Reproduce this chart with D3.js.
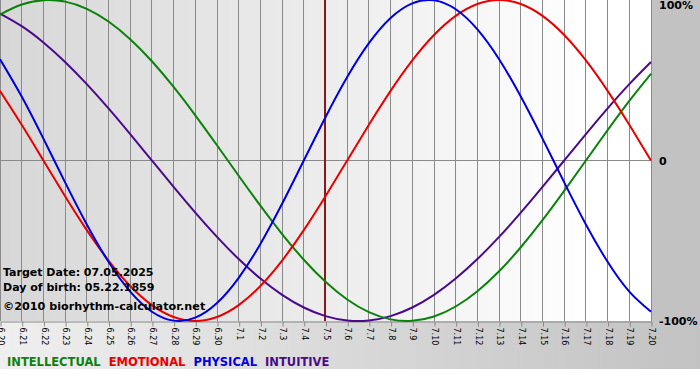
<!DOCTYPE html>
<html><head><meta charset="utf-8">
<script src="https://cdn.jsdelivr.net/npm/d3@7"></script>
<style>
html,body{margin:0;padding:0;background:#fff;}
svg{display:block;}
</style></head>
<body>
<div id="chart"></div>
<script>
const dayLabels = ["6.20","6.21","6.22","6.23","6.24","6.25","6.26","6.27","6.28","6.29","6.30",
  "7.1","7.2","7.3","7.4","7.5","7.6","7.7","7.8","7.9","7.10","7.11","7.12","7.13","7.14","7.15",
  "7.16","7.17","7.18","7.19","7.20"];
const intellectual = [0.9096,0.9718,0.9989,0.9898,0.9450,0.8660,0.7557,0.6182,0.4582,0.2817,0.0951,
  -0.0951,-0.2817,-0.4582,-0.6182,-0.7557,-0.8660,-0.9450,-0.9898,-0.9989,-0.9718,-0.9096,-0.8146,
  -0.6901,-0.5406,-0.3717,-0.1893,0,0.1893,0.3717,0.5406];
const emotional = [0.4339,0.2225,0,-0.2225,-0.4339,-0.6235,-0.7818,-0.9010,-0.9749,-1,-0.9749,
  -0.9010,-0.7818,-0.6235,-0.4339,-0.2225,0,0.2225,0.4339,0.6235,0.7818,0.9010,0.9749,1,0.9749,
  0.9010,0.7818,0.6235,0.4339,0.2225,0];
const physical = [0.6311,0.3984,0.1362,-0.1362,-0.3984,-0.6311,-0.8170,-0.9423,-0.9977,-0.9791,-0.8879,
  -0.7308,-0.5197,-0.2698,0,0.2698,0.5197,0.7308,0.8879,0.9791,0.9977,0.9423,0.8170,0.6311,0.3984,
  0.1362,-0.1362,-0.3984,-0.6311,-0.8170,-0.9423];
const intuitive = [0.9158,0.8372,0.7357,0.6142,0.4759,0.3247,0.1646,0,-0.1646,-0.3247,-0.4759,
  -0.6142,-0.7357,-0.8372,-0.9158,-0.9694,-0.9966,-0.9966,-0.9694,-0.9158,-0.8372,-0.7357,-0.6142,
  -0.4759,-0.3247,-0.1646,0,0.1646,0.3247,0.4759,0.6142];
const seriesNames = ["INTELLECTUAL","EMOTIONAL","PHYSICAL","INTUITIVE"];
const seriesColors = ["#0b820b","#e80000","#0000dd","#4a0a8a"];
const targetIndex = 15;
const yTickValues = [1, 0, -1];
const yTickLabels = ["100%", "0", "-100%"];
const infoLines = ["Target Date: 07.05.2025", "Day of birth: 05.22.1859", "\u00A92010 biorhythm-calculator.net"];

const W = 700, H = 380;
const plotW = 651, plotH = 321;

const svg = d3.select("#chart").append("svg").attr("width", W).attr("height", H);
const defs = svg.append("defs");

const gOuter = defs.append("linearGradient").attr("id","outerGrad").attr("x1","0").attr("x2","1").attr("y1","0").attr("y2","0");
gOuter.append("stop").attr("offset","0").attr("stop-color","#efefef");
gOuter.append("stop").attr("offset","1").attr("stop-color","#c2c2c2");
const gPlot = defs.append("linearGradient").attr("id","plotGrad").attr("x1","0").attr("x2","1").attr("y1","0").attr("y2","0");
gPlot.append("stop").attr("offset","0").attr("stop-color","#d7d7d7");
gPlot.append("stop").attr("offset","0.92").attr("stop-color","#ffffff");
gPlot.append("stop").attr("offset","1").attr("stop-color","#ffffff");
defs.append("clipPath").attr("id","plotClip").append("rect")
  .attr("x",0).attr("y",0).attr("width",plotW+1).attr("height",plotH+1);

svg.append("rect").attr("x",0).attr("y",0).attr("width",W).attr("height",369).attr("fill","url(#outerGrad)");
svg.append("rect").attr("x",651).attr("y",0).attr("width",W-651).attr("height",plotH).attr("fill","#c2c2c2");
svg.append("rect").attr("x",0).attr("y",0).attr("width",plotW).attr("height",plotH).attr("fill","url(#plotGrad)");

const x = d3.scaleLinear().domain([0, dayLabels.length - 1]).range([0, plotW]);
const y = d3.scaleLinear().domain([-1, 1]).range([plotH, 0]);
const px = i => Math.floor(x(i)) + 0.5;

// vertical grid
svg.append("g").selectAll("line").data(d3.range(dayLabels.length)).join("line")
  .attr("x1", px).attr("x2", px).attr("y1", 0).attr("y2", plotH)
  .attr("stroke", "#8a8a8a").attr("stroke-width", 1);
// zero line
svg.append("line").attr("x1",0).attr("x2",plotW).attr("y1",Math.floor(y(0))+0.5).attr("y2",Math.floor(y(0))+0.5)
  .attr("stroke","#8a8a8a");

// x axis
const xAxis = d3.axisBottom(x).tickValues(d3.range(dayLabels.length)).tickFormat(i => dayLabels[i]).tickSize(5).tickSizeOuter(0);
const gx = svg.append("g").attr("transform", `translate(0.5,${plotH + 0.5})`).call(xAxis);
gx.select(".domain").attr("stroke","#8a8a8a");
gx.selectAll(".tick line").attr("stroke","#8a8a8a");
gx.selectAll(".tick text")
  .attr("transform","rotate(90)")
  .attr("x", 6).attr("y", 0).attr("dy","0.36em")
  .attr("text-anchor","start")
  .attr("font-family","'DejaVu Sans', Verdana, sans-serif")
  .attr("font-size","8px").attr("fill","#000");

// y labels
const yAxis = d3.axisRight(y).tickValues(yTickValues).tickFormat((d,i) => yTickLabels[i]).tickSize(0).tickPadding(8);
const gy = svg.append("g").attr("transform", `translate(${plotW},0)`).call(yAxis);
gy.select(".domain").remove();
gy.selectAll(".tick text").attr("font-family","'DejaVu Sans', Verdana, sans-serif").attr("font-weight","bold")
  .attr("font-size","11px").attr("fill","#000");
gy.selectAll(".tick text").filter((d) => d === 1).attr("dy","0.6em").attr("y",2);

// right border
svg.append("line").attr("x1",plotW+0.5).attr("x2",plotW+0.5).attr("y1",0).attr("y2",plotH).attr("stroke","#8a8a8a");

// target line
svg.append("line").attr("x1",x(targetIndex)-0.5).attr("x2",x(targetIndex)-0.5).attr("y1",0).attr("y2",plotH)
  .attr("stroke","#8a1818").attr("stroke-width",2);

// curves
const line = d3.line().x((d,i) => x(i)).y(d => y(d)).curve(d3.curveNatural);
const allSeries = [intellectual, emotional, physical, intuitive];
const gLines = svg.append("g").attr("clip-path","url(#plotClip)");
[intuitive, intellectual, emotional, physical].forEach(s => {
  const idx = allSeries.indexOf(s);
  gLines.append("path").datum(s).attr("d", line).attr("fill","none")
    .attr("stroke", seriesColors[idx]).attr("stroke-width", 2);
});

// info text
const infoY = [276, 291, 310];
infoLines.forEach((t,i) => {
  svg.append("text").attr("x",3).attr("y",infoY[i]).text(t)
    .attr("font-family","'DejaVu Sans', Verdana, sans-serif").attr("font-weight","bold")
    .attr("font-size", i === 2 ? "11.2px" : "11px").attr("fill","#000");
});

// legend
let lx = 7;
seriesNames.forEach((n,i) => {
  const t = svg.append("text").attr("x",lx).attr("y",366).text(n)
    .attr("font-family","'DejaVu Sans', Verdana, sans-serif").attr("font-weight","bold")
    .attr("font-size","11.5px").attr("fill",seriesColors[i]);
  lx += t.node().getComputedTextLength() + 8;
});
</script>
</body></html>
